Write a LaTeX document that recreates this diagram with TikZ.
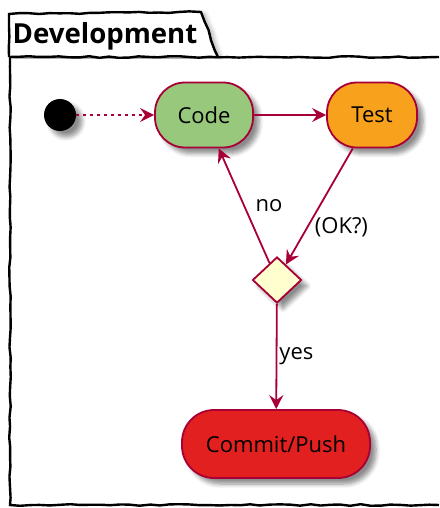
\documentclass[tikz,border=0pt]{standalone}
\usepackage{fontspec}
\setmainfont{Open Sans}
\usetikzlibrary{arrows.meta,shapes.geometric,shadows.blur,decorations.pathmorphing}
\definecolor{umlred}{HTML}{A80036}
\definecolor{codegreen}{HTML}{97C87C}
\definecolor{testorange}{HTML}{F7A11C}
\definecolor{pushred}{HTML}{E1201F}
\definecolor{checkfill}{HTML}{FEFECE}
\tikzset{
  shade/.style={blur shadow={shadow xshift=3pt,shadow yshift=-3pt,shadow opacity=45,shadow blur steps=6}},
  act/.style={draw=umlred,line width=0.9pt,rounded corners=15pt,minimum height=32.5pt,shade},
  flow/.style={umlred,line width=0.9pt,-{Stealth[length=7pt,width=7pt,inset=2.5pt]}},
  guard/.style={text=black},
  rough/.style={decorate,decoration={random steps,segment length=5pt,amplitude=0.4pt}},
}
\begin{document}
\begin{tikzpicture}[x=0.5pt,y=-0.5pt,font=\fontsize{11}{13}\selectfont]
\pgfmathsetseed{7}
\useasboundingbox (0,0) rectangle (439,508);
% package frame and its tab
\draw[line width=1.2pt,rough,fill=white,blur shadow={shadow xshift=2pt,shadow yshift=-1pt,shadow opacity=30,shadow blur steps=5}] (9,57) -- (9,14) -- (201,12) -- (218,57);
\draw[line width=1.2pt,rough] (9,57) -- (439,57);
\draw[line width=1.2pt,rough] (10,57) -- (10,505) -- (439,505);
\node[font=\fontsize{13.8}{16}\selectfont\bfseries] (title) at (105,36) {Development};

% activities
\node[circle,fill=black,minimum size=16pt,inner sep=0pt,shade] (start) at (60,115) {};
\node[act,fill=codegreen,minimum width=49pt] (code) at (204,115) {Code};
\node[act,fill=testorange,minimum width=45pt] (test) at (372,115) {Test};
\node[diamond,draw=umlred,fill=checkfill,line width=0.9pt,minimum width=24.5pt,minimum height=23pt,inner sep=0pt,shade] (check) at (277,280) {};
\node[act,fill=pushred,minimum width=94pt,minimum height=34pt,rounded corners=16pt] (push) at (276,444) {Commit/Push};

% transitions
\draw[flow,dash pattern=on 1.5pt off 2pt] (start) -- (code);
\draw[flow] (code) -- (test);
\draw[flow] (test) -- node[guard,pos=0.68,right] {(OK?)} (check);
\draw[flow] (check) -- node[guard,midway,right,xshift=2pt] {no} (code);
\draw[flow] (check) -- node[guard,midway,right,inner sep=1pt] {yes} (push);
\end{tikzpicture}
\end{document}
